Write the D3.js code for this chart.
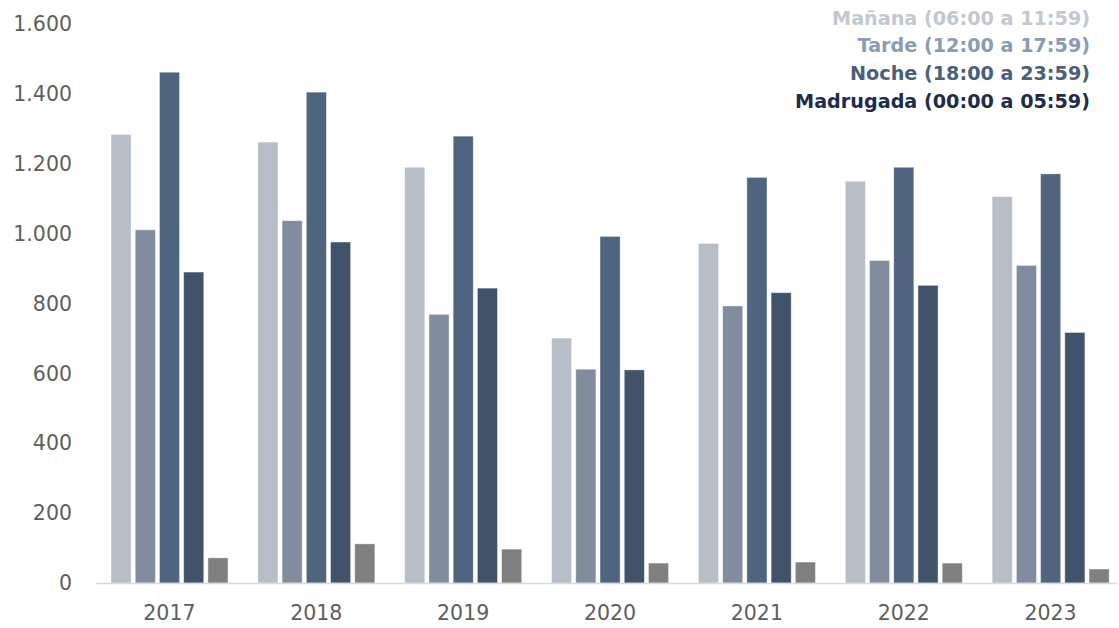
<!DOCTYPE html>
<html><head><meta charset="utf-8">
<script src="https://cdn.jsdelivr.net/npm/d3@7"></script>
<style>body{margin:0;background:#fff}svg{display:block}</style>
</head><body>
<svg id="c" width="1119" height="628"></svg>
<script>
const years = ["2017","2018","2019","2020","2021","2022","2023"];
const seriesNames = ["Mañana (06:00 a 11:59)","Tarde (12:00 a 17:59)","Noche (18:00 a 23:59)","Madrugada (00:00 a 05:59)","Sin dato"];
const manana = [1284,1262,1190,701,972,1150,1106];
const tarde = [1011,1037,769,612,793,923,909];
const noche = [1462,1405,1279,992,1161,1190,1171];
const madrugada = [890,976,844,610,831,852,717];
const sinDato = [72,112,97,57,60,57,40];
const yTicks = [0,200,400,600,800,1000,1200,1400,1600];

const barColors = ["#b7bec8","#818c9f","#4f647f","#41536b","#808080"];
const legendColors = ["#c3c8d0","#8b9bb1","#4b5f7a","#1f2b4b"];
const series = [manana,tarde,noche,madrugada,sinDato];

const svg = d3.select("#c");
const x = d3.scaleBand().domain(years).range([96,1124]).paddingInner(0).paddingOuter(0);
const xs = d3.scaleBand().domain(d3.range(5)).range([15,132]).paddingInner(0.17).paddingOuter(0);
const y = d3.scaleLinear().domain([0,1600]).range([583,24]);
const fmt = v => d3.format(",")(v).replace(/,/g,".");

// y labels
svg.append("g").selectAll("text").data(yTicks).join("text")
  .attr("x",72).attr("y",d=>y(d)).attr("dy","0.35em")
  .attr("text-anchor","end")
  .attr("font-family","'DejaVu Sans', sans-serif").attr("font-weight",400)
  .attr("font-size",20.5).attr("fill","#5e5e5e")
  .text(fmt);

// bars
years.forEach((yr,i)=>{
  const g = svg.append("g").attr("transform",`translate(${x(yr)},0)`);
  g.selectAll("rect").data(series.map((s,k)=>({k,v:s[i]}))).join("rect")
    .attr("x",d=>xs(d.k)).attr("width",xs.bandwidth())
    .attr("y",d=>y(d.v)).attr("height",d=>y(0)-y(d.v))
    .attr("fill",d=>barColors[d.k])
    .attr("stroke","#ffffff").attr("stroke-opacity",0.5).attr("stroke-width",0.8);
});

// baseline
svg.append("line").attr("x1",96).attr("x2",1117).attr("y1",y(0)+0.5).attr("y2",y(0)+0.5)
  .attr("stroke","#d9d9d9").attr("stroke-width",1.5);

// x labels
svg.append("g").selectAll("text").data(years).join("text")
  .attr("x",d=>x(d)+x.bandwidth()/2).attr("y",613).attr("dy","0.35em")
  .attr("text-anchor","middle")
  .attr("font-family","'DejaVu Sans', sans-serif").attr("font-weight",400)
  .attr("font-size",20.5).attr("fill","#5e5e5e")
  .text(d=>d);

// legend
svg.append("g").selectAll("text").data(seriesNames.slice(0,4)).join("text")
  .attr("x",1090).attr("y",(d,i)=>18+i*27.7).attr("dy","0.35em")
  .attr("text-anchor","end")
  .attr("font-family","'DejaVu Sans', sans-serif").attr("font-weight",700)
  .attr("font-size",19.2).attr("fill",(d,i)=>legendColors[i])
  .text(d=>d);
</script>
</body></html>
